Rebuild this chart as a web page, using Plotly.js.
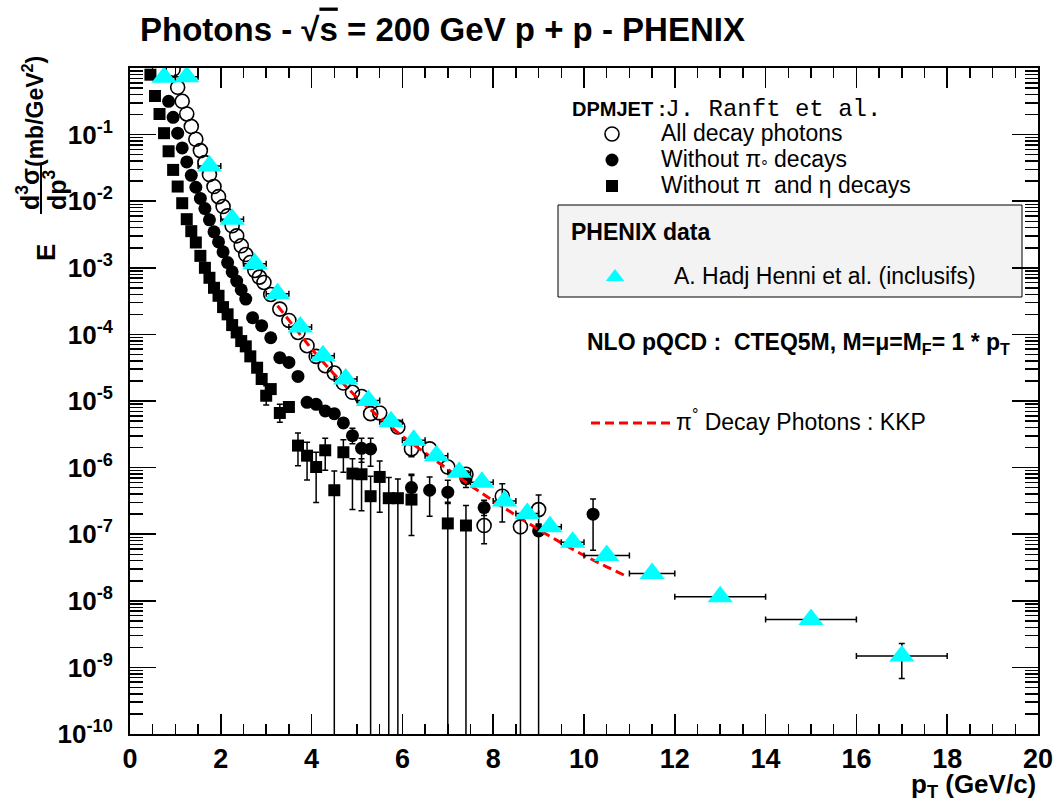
<!DOCTYPE html>
<html><head><meta charset="utf-8">
<script src="https://cdn.plot.ly/plotly-3.0.1.min.js"></script>
<style>html,body{margin:0;padding:0;background:#fff}#chart{width:1056px;height:806px}</style>
</head><body><div id="chart"></div>
<script>
// ---------- PHENIX data (A. Hadj Henni et al., inclusive photons) ----------
const phenixPt   = [0.75,1.25,1.75,2.25,2.75,3.25,3.75,4.25,4.75,5.25,5.75,6.25,6.75,7.25,7.75,8.25,8.75,9.25,9.75,10.5,11.5,13,15,17];
const phenixVal  = [0.724,0.741,0.0339,0.00537,0.00115,4.07e-4,1.29e-4,4.79e-5,2.14e-5,1.02e-5,4.90e-6,2.57e-6,1.51e-6,8.51e-7,6.03e-7,3.16e-7,2.04e-7,1.29e-7,7.59e-8,4.79e-8,2.57e-8,1.15e-8,5.25e-9,1.48e-9];
const phenixXerr = [0.25,0.25,0.25,0.25,0.25,0.25,0.25,0.25,0.25,0.25,0.25,0.25,0.25,0.25,0.25,0.25,0.25,0.25,0.25,0.5,0.5,1,1,1];
const phenixErrUp   = [0.07,0.07,0.0034,5.4e-4,1.2e-4,4e-5,1.3e-5,4.8e-6,2.1e-6,1.0e-6,5e-7,2.6e-7,1.5e-7,8.5e-8,6e-8,3.2e-8,2e-8,1.3e-8,7.6e-9,4.8e-9,2.6e-9,1.2e-9,6e-10,8.1e-10];
const phenixErrDown = [0.07,0.07,0.0034,5.4e-4,1.2e-4,4e-5,1.3e-5,4.8e-6,2.1e-6,1.0e-6,5e-7,2.6e-7,1.5e-7,8.5e-8,6e-8,3.2e-8,2e-8,1.3e-8,7.6e-9,4.8e-9,2.6e-9,1.2e-9,6e-10,8.0e-10];

// ---------- DPMJET : all decay photons (open circles); NaN = no visible error bar ----------
const allPt  = [0.95,1.05,1.15,1.25,1.35,1.45,1.55,1.65,1.75,1.85,1.95,2.05,2.15,2.25,2.35,2.45,2.55,2.65,2.75,2.85,2.95,3.1,3.3,3.5,3.7,3.9,4.1,4.3,4.5,4.7,4.9,5.1,5.3,5.5,5.9,6.2,6.6,7.0,7.4,7.8,8.2,8.6,9.0];
const allVal = [0.955,0.513,0.316,0.204,0.132,0.0851,0.0575,0.0380,0.0251,0.0166,0.0117,0.00832,0.00603,0.00427,0.00302,0.00214,0.00158,0.00120,9.12e-4,7.24e-4,6.03e-4,3.98e-4,2.40e-4,1.62e-4,1.07e-4,6.76e-5,4.68e-5,3.39e-5,2.63e-5,1.86e-5,1.35e-5,1.17e-5,6.46e-6,6.61e-6,4.07e-6,1.91e-6,1.91e-6,1.02e-6,7.94e-7,1.35e-7,3.72e-7,1.29e-7,2.34e-7];
const allErrUp   = [NaN,NaN,NaN,NaN,NaN,NaN,NaN,NaN,NaN,NaN,NaN,NaN,NaN,NaN,NaN,NaN,NaN,NaN,NaN,NaN,NaN,NaN,NaN,NaN,NaN,NaN,NaN,NaN,NaN,NaN,NaN,NaN,NaN,NaN,NaN,0.3e-6,NaN,NaN,NaN,1.05e-7,2.0e-7,4.9e-8,1.55e-7];
const allErrDown = [NaN,NaN,NaN,NaN,NaN,NaN,NaN,NaN,NaN,NaN,NaN,NaN,NaN,NaN,NaN,NaN,NaN,NaN,NaN,NaN,NaN,NaN,NaN,NaN,NaN,NaN,NaN,NaN,NaN,NaN,NaN,NaN,NaN,NaN,NaN,0.46e-6,NaN,NaN,NaN,6.3e-8,2.2e-7,1.29e-7,9.3e-8];

// ---------- DPMJET : without pi0 decays (filled circles) ----------
const noPi0Pt  = [0.85,0.95,1.05,1.15,1.25,1.35,1.45,1.55,1.65,1.75,1.85,1.95,2.05,2.15,2.25,2.35,2.45,2.55,2.7,2.9,3.1,3.3,3.5,3.7,3.9,4.1,4.3,4.5,4.7,4.9,5.1,5.3,6.2,6.6,7.0,7.4,7.8,9.0,10.2];
const noPi0Val = [0.316,0.182,0.105,0.0631,0.0389,0.0245,0.0162,0.0110,0.00776,0.00525,0.00347,0.00245,0.00174,0.00120,8.71e-4,6.31e-4,4.68e-4,3.39e-4,1.78e-4,1.35e-4,8.91e-5,4.47e-5,3.80e-5,2.34e-5,9.55e-6,8.91e-6,7.08e-6,6.46e-6,4.68e-6,3.02e-6,1.95e-6,1.91e-6,5.01e-7,4.57e-7,4.27e-7,6.76e-7,2.51e-7,1.12e-7,2.00e-7];
const noPi0ErrUp   = [NaN,NaN,NaN,NaN,NaN,NaN,NaN,NaN,NaN,NaN,NaN,NaN,NaN,NaN,NaN,NaN,NaN,NaN,NaN,NaN,NaN,NaN,NaN,NaN,NaN,NaN,NaN,NaN,NaN,0.87e-6,0.8e-6,0.84e-6,2.93e-7,2.67e-7,2.19e-7,2.15e-7,0.73e-7,0.29e-7,1.39e-7];
const noPi0ErrDown = [NaN,NaN,NaN,NaN,NaN,NaN,NaN,NaN,NaN,NaN,NaN,NaN,NaN,NaN,NaN,NaN,NaN,NaN,NaN,NaN,NaN,NaN,NaN,NaN,NaN,NaN,NaN,NaN,NaN,0.73e-6,0.75e-6,0.86e-6,1.99e-7,2.71e-7,1.39e-7,1.75e-7,0.6e-7,1.12e-7,1.425e-7];

// ---------- DPMJET : without pi0 and eta decays (filled squares) ----------
const noPiEtaPt  = [0.45,0.55,0.65,0.75,0.85,0.95,1.05,1.15,1.25,1.35,1.45,1.55,1.65,1.75,1.85,1.95,2.05,2.15,2.25,2.35,2.45,2.55,2.65,2.8,2.9,3.0,3.1,3.3,3.5,3.7,3.9,4.1,4.3,4.5,4.7,4.9,5.1,5.3,5.5,5.7,5.9,6.2,7.0,7.4];
const noPiEtaVal = [0.794,0.380,0.204,0.105,0.0562,0.0295,0.0166,0.00933,0.00537,0.00355,0.00240,0.00151,0.00100,7.08e-4,5.01e-4,3.80e-4,2.57e-4,2.00e-4,1.38e-4,1.07e-4,7.94e-5,6.61e-5,4.68e-5,3.16e-5,2.14e-5,1.20e-5,1.51e-5,6.61e-6,8.13e-6,2.14e-6,1.51e-6,1.02e-6,1.82e-6,4.57e-7,1.70e-6,8.13e-7,7.94e-7,3.72e-7,7.24e-7,3.47e-7,3.47e-7,3.31e-7,1.45e-7,1.35e-7];
const noPiEtaErrUp   = [NaN,NaN,NaN,NaN,NaN,NaN,NaN,NaN,NaN,NaN,NaN,NaN,NaN,NaN,NaN,NaN,NaN,NaN,NaN,NaN,NaN,NaN,NaN,NaN,NaN,0.5e-5,NaN,2.3e-6,NaN,1.17e-6,0.89e-6,0.68e-6,0.93e-6,4.34e-7,0.93e-6,0.54e-6,0.56e-6,3.69e-7,5.36e-7,3.61e-7,3.29e-7,4.28e-7,1.57e-7,1.34e-7];
const noPiEtaErrDown = [NaN,NaN,NaN,NaN,NaN,NaN,NaN,NaN,NaN,NaN,NaN,NaN,NaN,NaN,NaN,NaN,NaN,NaN,NaN,NaN,NaN,NaN,NaN,NaN,NaN,0.33e-5,NaN,1.82e-6,NaN,1.07e-6,0.86e-6,0.72e-6,0.91e-6,4.57e-7,0.85e-6,5.79e-7,5.7e-7,3.72e-7,5.1e-7,3.47e-7,3.47e-7,2.35e-7,1.45e-7,1.35e-7];

// ---------- NLO pQCD : pi0 decay photons, KKP ----------
const kkpPt  = [3.25,3.5,4.0,4.5,5.0,5.5,6.0,6.5,7.0,7.5,8.0,8.5,9.0,9.5,10.0,10.5,10.9];
const kkpVal = [2.69e-4,1.62e-4,6.03e-5,2.51e-5,1.12e-5,5.62e-6,2.95e-6,1.66e-6,9.33e-7,5.37e-7,3.16e-7,1.91e-7,1.17e-7,7.41e-8,4.79e-8,3.24e-8,2.40e-8];

// ---------- tick labels ----------
const yTickVals = [1e-10,1e-9,1e-8,1e-7,1e-6,1e-5,1e-4,1e-3,1e-2,1e-1];
const yTickText = ['10<sup>-10</sup>','10<sup>-9</sup>','10<sup>-8</sup>','10<sup>-7</sup>','10<sup>-6</sup>','10<sup>-5</sup>','10<sup>-4</sup>','10<sup>-3</sup>','10<sup>-2</sup>','10<sup>-1</sup>'];
const xTickVals = [0,2,4,6,8,10,12,14,16,18,20];

const FONT = '"Liberation Sans", Arial, sans-serif';
const PL = 130, PR = 1038, PT = 68, PB = 734;
const px = v => (v - PL) / (PR - PL);
const py = v => 1 - (v - PT) / (PB - PT);
const big = s => '<span style="font-size:23px">' + s + '</span>';

const errStyle = {thickness: 1.5, width: 3, color: '#000'};

const traces = [
  {x: allPt, y: allVal, type: 'scatter', mode: 'markers', name: big('All decay photons'),
   marker: {symbol: 'circle-open', size: 14, color: '#000', line: {width: 1.6, color: '#000'}},
   error_y: Object.assign({type: 'data', symmetric: false, array: allErrUp, arrayminus: allErrDown}, errStyle),
   legend: 'legend'},
  {x: noPi0Pt, y: noPi0Val, type: 'scatter', mode: 'markers', name: big('Without π<sub>°</sub> decays'),
   marker: {symbol: 'circle', size: 13, color: '#000'},
   error_y: Object.assign({type: 'data', symmetric: false, array: noPi0ErrUp, arrayminus: noPi0ErrDown}, errStyle),
   legend: 'legend'},
  {x: noPiEtaPt, y: noPiEtaVal, type: 'scatter', mode: 'markers', name: big('Without π  and η decays'),
   marker: {symbol: 'square', size: 12, color: '#000'},
   error_y: Object.assign({type: 'data', symmetric: false, array: noPiEtaErrUp, arrayminus: noPiEtaErrDown}, errStyle),
   legend: 'legend'},
  {x: kkpPt, y: kkpVal, type: 'scatter', mode: 'lines', name: big('π<sup>°</sup> Decay Photons : KKP'),
   line: {color: '#ff0000', width: 3, dash: '9px,5px'}, legend: 'legend3'},
  {x: phenixPt, y: phenixVal, type: 'scatter', mode: 'markers', name: big('A. Hadj Henni et al. (inclusifs)'),
   marker: {symbol: 'triangle-up', size: 22, color: '#00ffff'},
   error_x: Object.assign({type: 'data', array: phenixXerr}, errStyle),
   error_y: Object.assign({type: 'data', symmetric: false, array: phenixErrUp, arrayminus: phenixErrDown}, errStyle),
   legend: 'legend2'}
];

const LEGFS = 17.7;
const layout = {
  width: 1056, height: 806,
  paper_bgcolor: '#fff', plot_bgcolor: '#fff',
  margin: {l: PL, r: 1056 - PR, t: PT, b: 806 - PB},
  font: {family: FONT, color: '#000'},
  title: {text: 'Photons - √<span style="text-decoration:overline">s</span> = 200 GeV p + p - PHENIX',
          font: {family: FONT, size: 33, weight: 'bold', color: '#000'},
          xref: 'container', yref: 'container', x: 140/1056, xanchor: 'left', y: 1 - 29/806, yanchor: 'middle'},
  xaxis: {range: [0, 20], tickvals: xTickVals, ticks: 'inside', ticklen: 20, tickwidth: 1.5, tickcolor: '#000',
          showline: true, linewidth: 2, linecolor: '#000', mirror: 'ticks', showgrid: false, zeroline: false,
          tickfont: {family: FONT, size: 27, weight: 'bold'},
          minor: {dtick: 0.5, ticks: 'inside', ticklen: 10, tickwidth: 1.5, tickcolor: '#000', showgrid: false}},
  yaxis: {type: 'log', range: [-10, 0], tickvals: yTickVals, ticktext: yTickText, ticks: 'inside', ticklen: 26, tickwidth: 1.5, tickcolor: '#000',
          showline: true, linewidth: 2, linecolor: '#000', mirror: 'ticks', showgrid: false, zeroline: false,
          tickfont: {family: FONT, size: 26, weight: 'bold'}, ticklabelstandoff: 10,
          minor: {dtick: 'D1', ticks: 'inside', ticklen: 13, tickwidth: 1.5, tickcolor: '#000', showgrid: false}},
  showlegend: true,
  legend: {x: px(563), y: py(116), xanchor: 'left', yanchor: 'top', bgcolor: 'rgba(0,0,0,0)', borderwidth: 0,
           font: {family: FONT, size: LEGFS}, itemwidth: 88, tracegroupgap: 0},
  legend2: {x: px(556), y: py(259), xanchor: 'left', yanchor: 'top', bgcolor: 'rgba(0,0,0,0)', borderwidth: 0,
           font: {family: FONT, size: LEGFS}, itemwidth: 108},
  legend3: {x: px(586), y: py(405), xanchor: 'left', yanchor: 'top', bgcolor: 'rgba(0,0,0,0)', borderwidth: 0,
           font: {family: FONT, size: LEGFS}, itemwidth: 80},
  shapes: [
    {type: 'rect', xref: 'paper', yref: 'paper', x0: px(558), x1: px(1022), y0: py(297), y1: py(205),
     fillcolor: '#f3f3f3', line: {color: '#000', width: 1}, layer: 'below'},
    {type: 'line', xref: 'paper', yref: 'paper', x0: px(41), x1: px(41), y0: py(165), y1: py(214),
     line: {color: '#000', width: 2}}
  ],
  annotations: [
    {text: '<b>DPMJET :</b><span style="font-family:Liberation Mono, Courier New, monospace;font-size:24px">J. Ranft et al.</span>',
     xref: 'paper', yref: 'paper', x: px(570), y: py(109), xanchor: 'left', yanchor: 'middle', showarrow: false,
     font: {family: FONT, size: 20}},
    {text: '<b>PHENIX data</b>', xref: 'paper', yref: 'paper', x: px(569), y: py(232), xanchor: 'left', yanchor: 'middle',
     showarrow: false, font: {family: FONT, size: 23}},
    {text: '<b>NLO pQCD :  CTEQ5M, M=μ=M<sub>F</sub>= 1 * p<sub>T</sub></b>', xref: 'paper', yref: 'paper',
     x: px(1012), y: py(343), xanchor: 'right', yanchor: 'middle', showarrow: false, font: {family: FONT, size: 23}},
    {text: '<b>p<sub>T</sub> (GeV/c)</b>', xref: 'paper', yref: 'paper', x: 1, y: py(785), xanchor: 'right', yanchor: 'middle',
     showarrow: false, font: {family: FONT, size: 26}},
    {text: '<b>E</b>', xref: 'paper', yref: 'paper', x: px(46), y: py(253), textangle: -90, showarrow: false,
     xanchor: 'center', yanchor: 'middle', font: {family: FONT, size: 26}},
    {text: '<b>d<sup>3</sup>σ</b>', xref: 'paper', yref: 'paper', x: px(28), y: py(189), textangle: -90, showarrow: false,
     xanchor: 'center', yanchor: 'middle', font: {family: FONT, size: 25}},
    {text: '<b>dp<sup>3</sup></b>', xref: 'paper', yref: 'paper', x: px(55), y: py(190), textangle: -90, showarrow: false,
     xanchor: 'center', yanchor: 'middle', font: {family: FONT, size: 25}},
    {text: '<b>(mb/GeV<sup>2</sup>)</b>', xref: 'paper', yref: 'paper', x: px(33), y: py(112), textangle: -90, showarrow: false,
     xanchor: 'center', yanchor: 'middle', font: {family: FONT, size: 23}}
  ]
};

Plotly.newPlot('chart', traces, layout, {displayModeBar: false, staticPlot: true});
</script>
</body></html>
